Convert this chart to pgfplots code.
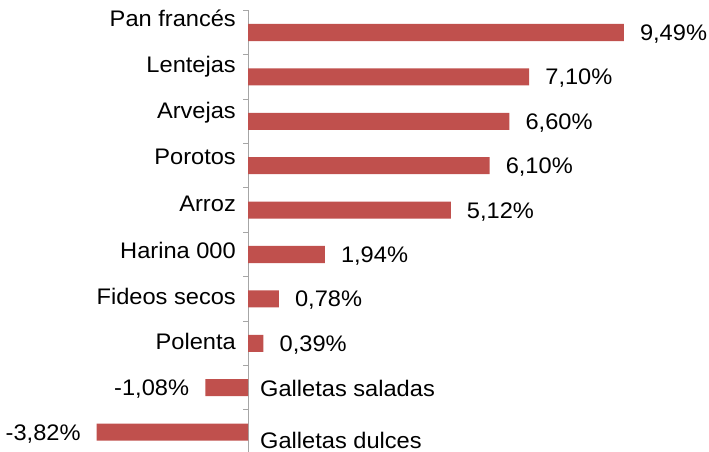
\documentclass[border=0pt]{standalone}
\usepackage{fontspec}
\setmainfont{Liberation Sans}[FakeStretch=1.05]
\usepackage{pgfplots}
\usepackage{pgfplotstable}
\pgfplotsset{compat=1.18}
\definecolor{barred}{RGB}{192,80,77}
\definecolor{axgray}{RGB}{166,166,166}

\pgfplotstableread{
pos value
0 9.49
1 7.10
2 6.60
3 6.10
4 5.12
5 1.94
6 0.78
7 0.39
8 -1.08
9 -3.82
}\bardata

\pgfplotstableread[col sep=comma]{
x,pos,name
0,-0.311,Pan francés
0,0.732,Lentejas
0,1.768,Arvejas
0,2.797,Porotos
0,3.847,Arroz
0,4.899,Harina 000
0,5.950,Fideos secos
0,6.964,Polenta
}\leftlabels

\pgfplotstableread[col sep=comma]{
x,pos,name
0,8.007,Galletas saladas
0,9.178,Galletas dulces
}\rightlabels

\begin{document}
\begin{tikzpicture}
\begin{axis}[
  scale only axis, width=709pt, height=444pt,
  xmin=-6.263, xmax=11.641,
  ymin=-0.5, ymax=9.5, y dir=reverse,
  axis x line=none,
  axis y line=center,
  y axis line style={-, draw=axgray, line width=1pt},
  ytick={-0.5,0.5,...,9.5}, yticklabels={},
  ytick style={draw=axgray, line width=1pt},
  tick align=outside, major tick length=5pt,
  clip=false,
  every node near coord/.append style={font=\fontsize{22.5}{27}\selectfont, text=black, text height=16pt, text depth=0pt, inner ysep=0pt},
]
\addplot[xbar, bar width=0.383, fill=barred, draw=none,
  nodes near coords={\pgfmathprintnumber[fixed, fixed zerofill, precision=2, use comma, assume math mode=true]{\pgfplotspointmeta}\%},
  point meta=x,
  every node near coord/.append style={inner xsep=16pt}]
  table[x=value, y=pos] {\bardata};
\addplot[only marks, mark=*, mark size=0pt, mark options={draw=none, fill=none},
  nodes near coords, point meta=explicit symbolic,
  every node near coord/.append style={anchor=east, inner xsep=12pt}]
  table[x=x, y=pos, meta=name] {\leftlabels};
\addplot[only marks, mark=*, mark size=0pt, mark options={draw=none, fill=none},
  nodes near coords, point meta=explicit symbolic,
  every node near coord/.append style={anchor=west, inner xsep=12pt}]
  table[x=x, y=pos, meta=name] {\rightlabels};
\end{axis}
\pgfresetboundingbox
\path[use as bounding box] ([yshift=10.3pt]current axis.north west) rectangle ([yshift=2.3pt]current axis.south east);
\end{tikzpicture}
\end{document}
